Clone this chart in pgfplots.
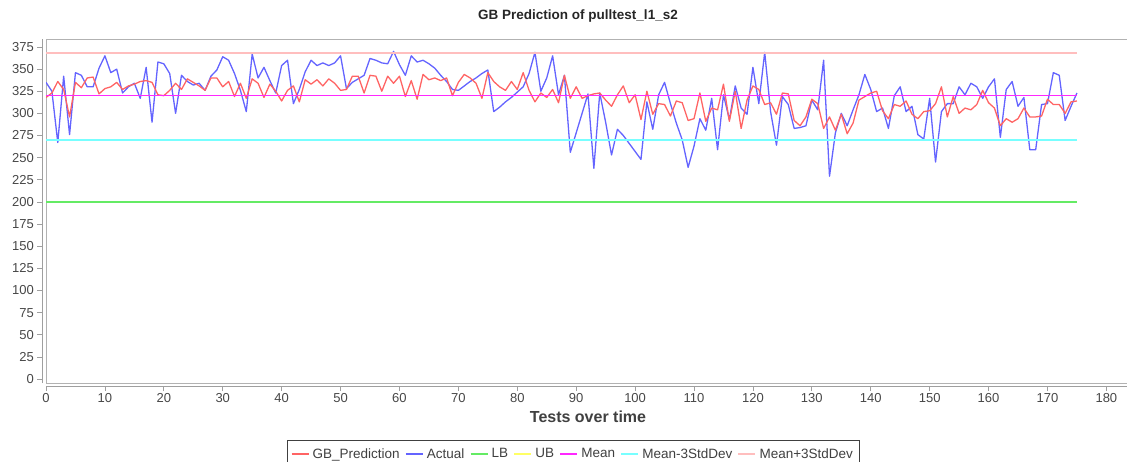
\documentclass[border=0pt]{standalone}
\usepackage{pgfplots}
\pgfplotsset{compat=1.18}
\usepackage{fontspec}
\setmainfont{Liberation Sans}
\setsansfont{Liberation Sans}
\definecolor{cpred}{RGB}{255,100,100}
\definecolor{cact}{RGB}{100,100,255}
\definecolor{clb}{RGB}{100,235,100}
\definecolor{cub}{RGB}{255,255,100}
\definecolor{meanmag}{RGB}{255,40,255}
\definecolor{clow}{RGB}{120,255,255}
\definecolor{chigh}{RGB}{255,190,190}
\begin{document}
\begin{tikzpicture}[x=1pt,y=1pt]
\useasboundingbox (0,0) rectangle (1127,461);
\begin{axis}[
  at={(46pt,78pt)}, anchor=south west,
  scale only axis, width=1081pt, height=344pt,
  xmin=0, xmax=183.5, ymin=-4.5, ymax=384,
  xtick={0,10,...,180}, ytick={0,25,...,375},
  axis lines=left,
  axis x line shift=3pt, axis y line shift=4pt,
  axis line style={-, draw=gray!75, line width=0.9pt},
  tick style={draw=gray!75, line width=0.7pt},
  tick align=outside, major tick length=5pt,
  tick label style={font=\fontsize{13}{13}\selectfont, text=black!72},
  /pgf/number format/assume math mode=true,
  yticklabel style={inner sep=0pt, xshift=-3pt},
  xticklabel style={inner sep=0pt, yshift=-2pt},
  legend style={at={(0.4875,-0.1657)}, anchor=north, legend columns=-1,
    draw=black!75, line width=0.9pt, font=\fontsize{13.5}{15}\selectfont,
    text=black!75, inner xsep=4pt, inner ysep=6pt,
    /tikz/every odd column/.append style={column sep=1.5pt},
    /tikz/every even column/.append style={column sep=3.5pt}},
  legend cell align=left,
  legend image code/.code={\draw[#1,line width=1.2pt] (0pt,0pt) -- (17pt,0pt);},
  every axis plot/.append style={line join=round},
]
\draw[gray!60, line width=0.9pt] (rel axis cs:0,0) rectangle (rel axis cs:1,1);
\addplot[cact, line width=1.3pt, forget plot] table {
0 335
1 325
2 267
3 342
4 276
5 346
6 343
7 330
8 330
9 351
10 365
11 346
12 350
13 323
14 330
15 334
16 317
17 352
18 290
19 358
20 356
21 345
22 300
23 343
24 336
25 332
26 334
27 326
28 342
29 349
30 364
31 360
32 345
33 326
34 302
35 367
36 340
37 352
38 337
39 323
40 354
41 360
42 311
43 327
44 347
45 360
46 354
47 357
48 354
49 357
50 365
51 328
52 335
53 339
54 343
55 362
56 360
57 357
58 356
59 370
60 355
61 343
62 365
63 358
64 360
65 356
66 351
67 343
68 336
69 327
70 326
71 331
72 336
73 340
74 345
75 349
76 302
77 307
78 313
79 318
80 324
81 330
82 345
83 369
84 325
85 340
86 365
87 321
88 343
89 256
90 278
91 300
92 322
93 238
94 323
95 290
96 253
97 282
98 275
99 266
100 257
101 248
102 313
103 282
104 321
105 335
106 311
107 289
108 270
109 239
110 263
111 294
112 281
113 317
114 259
115 321
116 293
117 331
118 306
119 299
120 352
121 311
122 369
123 302
124 264
125 319
126 310
127 283
128 284
129 286
130 315
131 304
132 360
133 229
134 278
135 300
136 286
137 304
138 321
139 344
140 327
141 302
142 306
143 283
144 320
145 330
146 302
147 308
148 276
149 271
150 317
151 245
152 302
153 311
154 311
155 330
156 321
157 334
158 330
159 317
160 330
161 339
162 273
163 327
164 336
165 308
166 318
167 259
168 259
169 310
170 311
171 346
172 343
173 292
174 308
175 323
};
\addplot[cpred, line width=1.3pt] table {
0 318
1 323
2 336
3 327
4 296
5 335
6 329
7 340
8 341
9 322
10 328
11 330
12 335
13 327
14 331
15 333
16 336
17 337
18 335
19 321
20 320
21 326
22 334
23 327
24 339
25 335
26 331
27 326
28 340
29 340
30 330
31 336
32 319
33 334
34 317
35 339
36 334
37 318
38 333
39 325
40 314
41 326
42 331
43 313
44 338
45 333
46 338
47 331
48 339
49 334
50 326
51 327
52 342
53 342
54 323
55 343
56 342
57 325
58 342
59 334
60 342
61 319
62 337
63 316
64 344
65 338
66 340
67 337
68 340
69 320
70 335
71 344
72 340
73 334
74 317
75 346
76 336
77 330
78 326
79 336
80 327
81 346
82 326
83 313
84 323
85 318
86 327
87 312
88 343
89 317
90 330
91 317
92 320
93 322
94 323
95 315
96 308
97 321
98 331
99 312
100 321
101 293
102 325
103 299
104 311
105 310
106 297
107 314
108 312
109 292
110 294
111 323
112 291
113 306
114 304
115 333
116 291
117 325
118 283
119 315
120 331
121 327
122 310
123 312
124 299
125 323
126 322
127 292
128 286
129 296
130 316
131 311
132 283
133 296
134 281
135 299
136 277
137 289
138 315
139 319
140 323
141 325
142 303
143 294
144 310
145 308
146 314
147 299
148 294
149 302
150 303
151 311
152 330
153 296
154 319
155 300
156 306
157 304
158 310
159 326
160 312
161 306
162 286
163 294
164 290
165 294
166 306
167 296
168 296
169 297
170 316
171 310
172 310
173 300
174 313
175 314
};
\addlegendentry{GB\_Prediction}
\addlegendimage{cact, line width=1.2pt}
\addlegendentry{Actual}
\addplot[clb, line width=1.4pt] coordinates {(0,200) (175,200)};
\addlegendentry{LB}
\addplot[cub, line width=1.4pt] coordinates {(0,500) (175,500)};
\addlegendentry{UB}
\addplot[color=meanmag, line width=1.6pt] coordinates {(0,320) (175,320)};
\addlegendentry{Mean}
\addplot[clow, line width=1.6pt] coordinates {(0,270) (175,270)};
\addlegendentry{Mean-3StdDev}
\addplot[chigh, line width=1.6pt] coordinates {(0,368) (175,368)};
\addlegendentry{Mean+3StdDev}
\end{axis}
\node[font=\fontsize{13.5}{13.5}\selectfont\bfseries, text=black!85] at (578,445) {GB Prediction of pulltest\_l1\_s2};
\node[font=\fontsize{16}{16}\selectfont\bfseries, text=black!75] at (588,44) {Tests over time};
\end{tikzpicture}
\end{document}
